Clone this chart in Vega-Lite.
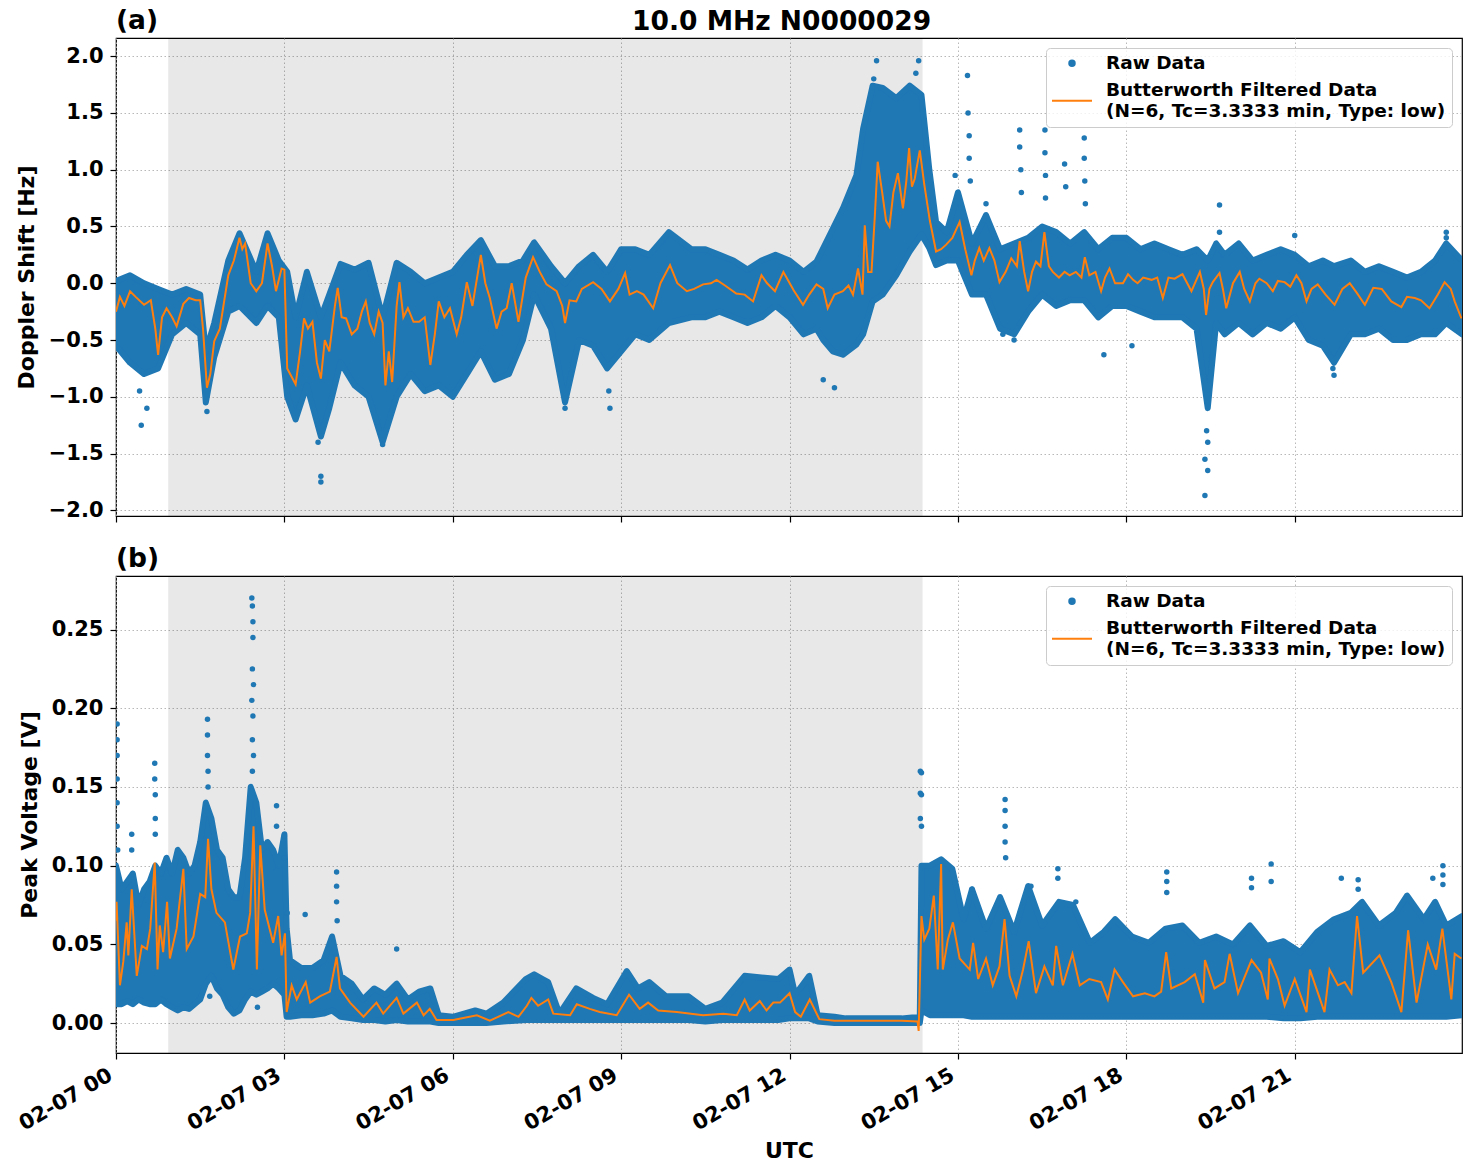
{
  "$schema": "https://vega.github.io/schema/vega-lite/v6.json",
  "background": "white",
  "padding": {"left": 14, "top": 6, "right": 8, "bottom": 5},
  "title": {"text": "10.0 MHz N0000029", "anchor": "middle", "offset": -29, "dx": 43, "fontSize": 26.5},
  "spacing": 20,
  "resolve": {"scale": {"color": "independent"}, "legend": {"color": "independent"}},
  "datasets": {
    "shade": [{"a": 0.93, "b": 14.37}],
    "bandA": [
      {"t":0.0,"lo":-0.55,"hi":0.02},{"t":0.25,"lo":-0.7,"hi":0.07},{"t":0.5,"lo":-0.8,"hi":0.0},{"t":0.75,"lo":-0.75,"hi":-0.05},
      {"t":1.0,"lo":-0.45,"hi":-0.1},{"t":1.25,"lo":-0.35,"hi":-0.05},{"t":1.5,"lo":-0.45,"hi":-0.1},{"t":1.6,"lo":-1.05,"hi":-0.6},
      {"t":1.75,"lo":-0.65,"hi":-0.35},{"t":2.0,"lo":-0.25,"hi":0.2},{"t":2.2,"lo":-0.2,"hi":0.44},{"t":2.5,"lo":-0.35,"hi":0.1},
      {"t":2.7,"lo":-0.2,"hi":0.44},{"t":2.9,"lo":-0.3,"hi":0.2},{"t":3.05,"lo":-1.0,"hi":0.1},{"t":3.2,"lo":-1.2,"hi":-0.3},
      {"t":3.4,"lo":-0.9,"hi":0.1},{"t":3.65,"lo":-1.35,"hi":-0.3},{"t":3.8,"lo":-1.1,"hi":-0.1},{"t":4.0,"lo":-0.7,"hi":0.17},
      {"t":4.25,"lo":-0.9,"hi":0.12},{"t":4.5,"lo":-1.0,"hi":0.18},{"t":4.75,"lo":-1.4,"hi":-0.3},{"t":5.0,"lo":-1.0,"hi":0.18},
      {"t":5.25,"lo":-0.8,"hi":0.1},{"t":5.5,"lo":-0.95,"hi":0.0},{"t":5.75,"lo":-0.9,"hi":0.05},{"t":6.0,"lo":-1.0,"hi":0.1},
      {"t":6.25,"lo":-0.8,"hi":0.25},{"t":6.5,"lo":-0.6,"hi":0.38},{"t":6.75,"lo":-0.85,"hi":0.15},{"t":7.0,"lo":-0.8,"hi":0.15},
      {"t":7.25,"lo":-0.5,"hi":0.2},{"t":7.45,"lo":-0.1,"hi":0.36},{"t":7.75,"lo":-0.4,"hi":0.15},{"t":8.0,"lo":-1.05,"hi":0.0},
      {"t":8.25,"lo":-0.5,"hi":0.15},{"t":8.5,"lo":-0.55,"hi":0.25},{"t":8.75,"lo":-0.75,"hi":0.1},{"t":9.0,"lo":-0.6,"hi":0.3},
      {"t":9.25,"lo":-0.45,"hi":0.3},{"t":9.5,"lo":-0.5,"hi":0.25},{"t":9.85,"lo":-0.35,"hi":0.45},{"t":10.25,"lo":-0.3,"hi":0.3},
      {"t":10.5,"lo":-0.3,"hi":0.3},{"t":10.75,"lo":-0.25,"hi":0.25},{"t":11.0,"lo":-0.3,"hi":0.2},{"t":11.25,"lo":-0.35,"hi":0.12},
      {"t":11.5,"lo":-0.3,"hi":0.2},{"t":11.75,"lo":-0.2,"hi":0.25},{"t":12.0,"lo":-0.3,"hi":0.2},{"t":12.25,"lo":-0.45,"hi":0.1},
      {"t":12.48,"lo":-0.4,"hi":0.19},{"t":12.6,"lo":-0.5,"hi":0.31},{"t":12.77,"lo":-0.6,"hi":0.48},{"t":12.95,"lo":-0.63,"hi":0.66},
      {"t":13.19,"lo":-0.54,"hi":0.95},{"t":13.31,"lo":-0.45,"hi":1.36},{"t":13.48,"lo":-0.16,"hi":1.74},{"t":13.66,"lo":-0.1,"hi":1.72},
      {"t":13.9,"lo":0.07,"hi":1.63},{"t":14.14,"lo":0.28,"hi":1.74},{"t":14.35,"lo":0.43,"hi":1.66},{"t":14.49,"lo":0.31,"hi":1.0},
      {"t":14.61,"lo":0.16,"hi":0.54},{"t":14.8,"lo":0.2,"hi":0.45},{"t":15.0,"lo":0.2,"hi":0.8},
      {"t":15.25,"lo":-0.1,"hi":0.35},{"t":15.5,"lo":-0.1,"hi":0.6},{"t":15.75,"lo":-0.4,"hi":0.3},{"t":16.0,"lo":-0.45,"hi":0.35},
      {"t":16.25,"lo":-0.25,"hi":0.4},{"t":16.5,"lo":-0.1,"hi":0.5},{"t":16.75,"lo":-0.2,"hi":0.45},{"t":17.0,"lo":-0.15,"hi":0.35},
      {"t":17.25,"lo":-0.15,"hi":0.45},{"t":17.5,"lo":-0.3,"hi":0.3},{"t":17.75,"lo":-0.2,"hi":0.4},{"t":18.0,"lo":-0.2,"hi":0.4},
      {"t":18.25,"lo":-0.25,"hi":0.3},{"t":18.5,"lo":-0.3,"hi":0.35},{"t":18.75,"lo":-0.3,"hi":0.3},{"t":19.0,"lo":-0.3,"hi":0.25},
      {"t":19.25,"lo":-0.4,"hi":0.3},{"t":19.45,"lo":-1.1,"hi":0.2},{"t":19.6,"lo":-0.35,"hi":0.35},{"t":19.75,"lo":-0.45,"hi":0.25},
      {"t":20.0,"lo":-0.35,"hi":0.35},{"t":20.25,"lo":-0.45,"hi":0.2},{"t":20.5,"lo":-0.35,"hi":0.25},{"t":20.75,"lo":-0.4,"hi":0.3},
      {"t":21.0,"lo":-0.3,"hi":0.25},{"t":21.25,"lo":-0.5,"hi":0.15},{"t":21.5,"lo":-0.55,"hi":0.2},{"t":21.7,"lo":-0.7,"hi":0.15},
      {"t":22.0,"lo":-0.45,"hi":0.2},{"t":22.25,"lo":-0.45,"hi":0.1},{"t":22.5,"lo":-0.4,"hi":0.15},{"t":22.75,"lo":-0.5,"hi":0.1},
      {"t":23.0,"lo":-0.5,"hi":0.05},{"t":23.25,"lo":-0.45,"hi":0.1},{"t":23.5,"lo":-0.45,"hi":0.2},{"t":23.7,"lo":-0.35,"hi":0.35},
      {"t":23.98,"lo":-0.45,"hi":0.2}
    ],
    "filtA": [
      {"t":0.0,"f":-0.25},{"t":0.07,"f":-0.12},{"t":0.15,"f":-0.2},{"t":0.25,"f":-0.07},{"t":0.35,"f":-0.12},{"t":0.5,"f":-0.19},
      {"t":0.62,"f":-0.15},{"t":0.7,"f":-0.4},{"t":0.75,"f":-0.63},{"t":0.82,"f":-0.3},{"t":0.9,"f":-0.22},{"t":1.0,"f":-0.3},
      {"t":1.08,"f":-0.38},{"t":1.2,"f":-0.18},{"t":1.3,"f":-0.13},{"t":1.42,"f":-0.15},{"t":1.5,"f":-0.15},{"t":1.55,"f":-0.4},
      {"t":1.62,"f":-0.92},{"t":1.68,"f":-0.8},{"t":1.75,"f":-0.51},{"t":1.85,"f":-0.4},{"t":2.0,"f":0.07},{"t":2.1,"f":0.2},
      {"t":2.2,"f":0.4},{"t":2.25,"f":0.3},{"t":2.3,"f":0.35},{"t":2.4,"f":0.0},{"t":2.5,"f":-0.07},{"t":2.6,"f":0.0},
      {"t":2.7,"f":0.35},{"t":2.78,"f":0.15},{"t":2.85,"f":-0.07},{"t":2.95,"f":0.13},{"t":3.0,"f":0.12},{"t":3.05,"f":-0.75},
      {"t":3.2,"f":-0.89},{"t":3.28,"f":-0.6},{"t":3.35,"f":-0.31},{"t":3.42,"f":-0.4},{"t":3.5,"f":-0.34},{"t":3.58,"f":-0.7},
      {"t":3.65,"f":-0.84},{"t":3.72,"f":-0.5},{"t":3.8,"f":-0.6},{"t":3.9,"f":-0.2},{"t":3.95,"f":-0.04},{"t":4.02,"f":-0.3},
      {"t":4.1,"f":-0.31},{"t":4.2,"f":-0.45},{"t":4.3,"f":-0.4},{"t":4.38,"f":-0.25},{"t":4.45,"f":-0.16},{"t":4.52,"f":-0.35},
      {"t":4.6,"f":-0.45},{"t":4.68,"f":-0.25},{"t":4.75,"f":-0.35},{"t":4.8,"f":-0.9},{"t":4.86,"f":-0.6},{"t":4.92,"f":-0.87},
      {"t":5.0,"f":-0.2},{"t":5.05,"f":0.01},{"t":5.12,"f":-0.3},{"t":5.2,"f":-0.22},{"t":5.3,"f":-0.34},{"t":5.4,"f":-0.34},
      {"t":5.5,"f":-0.3},{"t":5.6,"f":-0.72},{"t":5.68,"f":-0.45},{"t":5.75,"f":-0.16},{"t":5.85,"f":-0.3},{"t":5.95,"f":-0.22},
      {"t":6.07,"f":-0.45},{"t":6.15,"f":-0.3},{"t":6.25,"f":0.01},{"t":6.35,"f":-0.2},{"t":6.5,"f":0.25},{"t":6.58,"f":0.0},
      {"t":6.66,"f":-0.13},{"t":6.78,"f":-0.4},{"t":6.87,"f":-0.25},{"t":6.96,"f":-0.22},{"t":7.05,"f":0.0},{"t":7.17,"f":-0.34},
      {"t":7.3,"f":0.05},{"t":7.43,"f":0.23},{"t":7.55,"f":0.1},{"t":7.67,"f":-0.01},{"t":7.85,"f":-0.07},{"t":7.95,"f":-0.2},
      {"t":8.0,"f":-0.35},{"t":8.08,"f":-0.15},{"t":8.2,"f":-0.16},{"t":8.3,"f":-0.05},{"t":8.5,"f":0.01},{"t":8.65,"f":-0.05},
      {"t":8.8,"f":-0.16},{"t":8.95,"f":-0.05},{"t":9.07,"f":0.09},{"t":9.15,"f":-0.1},{"t":9.28,"f":-0.07},{"t":9.4,"f":-0.1},
      {"t":9.57,"f":-0.22},{"t":9.7,"f":0.0},{"t":9.87,"f":0.16},{"t":10.0,"f":0.0},{"t":10.17,"f":-0.07},{"t":10.3,"f":-0.05},
      {"t":10.46,"f":-0.01},{"t":10.6,"f":0.0},{"t":10.7,"f":0.03},{"t":10.85,"f":-0.02},{"t":11.05,"f":-0.09},{"t":11.2,"f":-0.1},
      {"t":11.35,"f":-0.16},{"t":11.5,"f":0.07},{"t":11.6,"f":0.0},{"t":11.74,"f":-0.07},{"t":11.89,"f":0.1},{"t":12.07,"f":-0.06},
      {"t":12.24,"f":-0.19},{"t":12.35,"f":-0.1},{"t":12.48,"f":-0.01},{"t":12.6,"f":-0.05},{"t":12.68,"f":-0.22},{"t":12.8,"f":-0.1},
      {"t":12.95,"f":-0.07},{"t":13.05,"f":-0.02},{"t":13.13,"f":-0.1},{"t":13.22,"f":0.13},{"t":13.3,"f":-0.1},{"t":13.34,"f":0.51},
      {"t":13.4,"f":0.1},{"t":13.46,"f":0.1},{"t":13.52,"f":0.6},{"t":13.57,"f":1.07},{"t":13.65,"f":0.8},{"t":13.72,"f":0.55},
      {"t":13.78,"f":0.5},{"t":13.85,"f":0.8},{"t":13.93,"f":0.97},{"t":14.02,"f":0.66},{"t":14.08,"f":0.9},{"t":14.13,"f":1.19},
      {"t":14.18,"f":0.85},{"t":14.23,"f":0.92},{"t":14.32,"f":1.17},{"t":14.4,"f":0.87},{"t":14.5,"f":0.55},{"t":14.61,"f":0.28},
      {"t":14.7,"f":0.3},{"t":14.79,"f":0.34},{"t":14.9,"f":0.4},{"t":15.03,"f":0.54},{"t":15.13,"f":0.3},{"t":15.24,"f":0.07},
      {"t":15.3,"f":0.2},{"t":15.38,"f":0.31},{"t":15.46,"f":0.2},{"t":15.56,"f":0.31},{"t":15.65,"f":0.2},{"t":15.74,"f":0.01},
      {"t":15.85,"f":0.1},{"t":15.95,"f":0.22},{"t":16.05,"f":0.15},{"t":16.1,"f":0.37},{"t":16.18,"f":0.1},{"t":16.25,"f":-0.07},
      {"t":16.32,"f":0.1},{"t":16.39,"f":0.19},{"t":16.47,"f":0.15},{"t":16.54,"f":0.45},{"t":16.62,"f":0.15},{"t":16.69,"f":0.1},
      {"t":16.8,"f":0.05},{"t":16.9,"f":0.1},{"t":16.99,"f":0.07},{"t":17.1,"f":0.1},{"t":17.2,"f":0.05},{"t":17.26,"f":0.23},
      {"t":17.34,"f":0.07},{"t":17.45,"f":0.1},{"t":17.55,"f":-0.07},{"t":17.62,"f":0.05},{"t":17.7,"f":0.13},{"t":17.8,"f":0.0},
      {"t":17.94,"f":0.0},{"t":18.03,"f":0.08},{"t":18.12,"f":0.03},{"t":18.2,"f":0.0},{"t":18.3,"f":0.05},{"t":18.45,"f":0.03},
      {"t":18.55,"f":0.05},{"t":18.65,"f":-0.13},{"t":18.75,"f":0.05},{"t":18.86,"f":0.04},{"t":19.0,"f":0.08},{"t":19.16,"f":-0.07},
      {"t":19.31,"f":0.1},{"t":19.38,"f":-0.05},{"t":19.42,"f":-0.28},{"t":19.48,"f":-0.05},{"t":19.54,"f":0.01},{"t":19.66,"f":0.09},
      {"t":19.72,"f":-0.05},{"t":19.78,"f":-0.22},{"t":19.9,"f":0.0},{"t":20.02,"f":0.1},{"t":20.1,"f":-0.05},{"t":20.2,"f":-0.16},
      {"t":20.3,"f":0.0},{"t":20.37,"f":0.04},{"t":20.5,"f":0.0},{"t":20.61,"f":-0.07},{"t":20.7,"f":0.02},{"t":20.82,"f":0.01},
      {"t":20.92,"f":-0.03},{"t":21.03,"f":0.07},{"t":21.12,"f":0.0},{"t":21.21,"f":-0.16},{"t":21.3,"f":-0.05},{"t":21.41,"f":-0.01},
      {"t":21.55,"f":-0.1},{"t":21.71,"f":-0.19},{"t":21.85,"f":-0.05},{"t":21.98,"f":0.0},{"t":22.1,"f":-0.08},{"t":22.25,"f":-0.19},
      {"t":22.4,"f":-0.04},{"t":22.55,"f":-0.05},{"t":22.72,"f":-0.16},{"t":22.9,"f":-0.21},{"t":23.0,"f":-0.12},{"t":23.14,"f":-0.13},
      {"t":23.25,"f":-0.15},{"t":23.4,"f":-0.22},{"t":23.55,"f":-0.1},{"t":23.67,"f":0.01},{"t":23.78,"f":-0.05},{"t":23.85,"f":-0.16},
      {"t":23.97,"f":-0.31}
    ],
    "outA": [
      {"t":0.45,"v":-1.25},{"t":0.55,"v":-1.1},{"t":0.42,"v":-0.95},{"t":1.62,"v":-1.13},{"t":3.65,"v":-1.75},{"t":3.65,"v":-1.7},
      {"t":4.75,"v":-1.42},{"t":3.6,"v":-1.4},{"t":8.0,"v":-1.1},{"t":8.8,"v":-1.1},{"t":8.78,"v":-0.95},{"t":13.55,"v":1.96},
      {"t":14.3,"v":1.96},{"t":13.5,"v":1.8},{"t":14.25,"v":1.85},{"t":15.17,"v":1.83},{"t":15.18,"v":1.5},{"t":15.2,"v":1.3},
      {"t":15.2,"v":1.1},{"t":15.22,"v":0.9},{"t":16.1,"v":1.35},{"t":16.1,"v":1.2},{"t":16.12,"v":1.0},{"t":16.13,"v":0.8},
      {"t":16.55,"v":1.35},{"t":16.55,"v":1.15},{"t":16.56,"v":0.95},{"t":16.56,"v":0.75},{"t":16.9,"v":1.05},{"t":16.92,"v":0.85},
      {"t":17.25,"v":1.28},{"t":17.25,"v":1.1},{"t":17.26,"v":0.9},{"t":17.27,"v":0.7},{"t":12.8,"v":-0.92},{"t":12.6,"v":-0.85},
      {"t":19.4,"v":-1.55},{"t":19.45,"v":-1.65},{"t":19.4,"v":-1.87},{"t":19.45,"v":-1.4},{"t":19.43,"v":-1.3},{"t":19.66,"v":0.69},
      {"t":19.66,"v":0.45},{"t":21.0,"v":0.42},{"t":23.7,"v":0.45},{"t":23.7,"v":0.4},{"t":17.6,"v":-0.63},{"t":18.1,"v":-0.55},
      {"t":21.7,"v":-0.81},{"t":21.68,"v":-0.75},{"t":15.8,"v":-0.45},{"t":16.0,"v":-0.5},{"t":14.95,"v":0.95},{"t":15.5,"v":0.7}
    ],
    "bandB": [
      {"t":0.0,"lo":0.012,"hi":0.1},{"t":0.1,"lo":0.012,"hi":0.085},{"t":0.2,"lo":0.014,"hi":0.09},{"t":0.3,"lo":0.012,"hi":0.095},
      {"t":0.4,"lo":0.015,"hi":0.075},{"t":0.5,"lo":0.013,"hi":0.085},{"t":0.6,"lo":0.012,"hi":0.09},{"t":0.7,"lo":0.012,"hi":0.1},
      {"t":0.8,"lo":0.015,"hi":0.095},{"t":0.9,"lo":0.012,"hi":0.105},{"t":1.0,"lo":0.01,"hi":0.095},{"t":1.1,"lo":0.008,"hi":0.11},
      {"t":1.2,"lo":0.01,"hi":0.105},{"t":1.3,"lo":0.009,"hi":0.095},{"t":1.4,"lo":0.012,"hi":0.1},{"t":1.5,"lo":0.015,"hi":0.115},
      {"t":1.6,"lo":0.025,"hi":0.14},{"t":1.7,"lo":0.03,"hi":0.13},{"t":1.8,"lo":0.022,"hi":0.11},{"t":1.9,"lo":0.018,"hi":0.105},
      {"t":2.0,"lo":0.01,"hi":0.085},{"t":2.1,"lo":0.006,"hi":0.08},{"t":2.2,"lo":0.008,"hi":0.08},{"t":2.3,"lo":0.015,"hi":0.105},
      {"t":2.4,"lo":0.02,"hi":0.15},{"t":2.5,"lo":0.018,"hi":0.14},{"t":2.6,"lo":0.02,"hi":0.11},{"t":2.7,"lo":0.022,"hi":0.115},
      {"t":2.8,"lo":0.025,"hi":0.11},{"t":2.9,"lo":0.022,"hi":0.1},{"t":3.0,"lo":0.018,"hi":0.12},{"t":3.04,"lo":0.004,"hi":0.06},
      {"t":3.1,"lo":0.004,"hi":0.04},{"t":3.3,"lo":0.005,"hi":0.035},{"t":3.5,"lo":0.005,"hi":0.035},{"t":3.7,"lo":0.006,"hi":0.04},
      {"t":3.85,"lo":0.008,"hi":0.055},{"t":4.0,"lo":0.004,"hi":0.03},{"t":4.2,"lo":0.003,"hi":0.025},{"t":4.4,"lo":0.002,"hi":0.015},
      {"t":4.6,"lo":0.002,"hi":0.022},{"t":4.8,"lo":0.001,"hi":0.018},{"t":5.0,"lo":0.002,"hi":0.025},{"t":5.2,"lo":0.001,"hi":0.015},
      {"t":5.4,"lo":0.001,"hi":0.02},{"t":5.6,"lo":0.001,"hi":0.022},{"t":5.75,"lo":0.0,"hi":0.005},{"t":6.0,"lo":0.0,"hi":0.004},
      {"t":6.4,"lo":0.0,"hi":0.008},{"t":6.6,"lo":0.0,"hi":0.006},{"t":6.9,"lo":0.001,"hi":0.013},{"t":7.3,"lo":0.002,"hi":0.028},
      {"t":7.45,"lo":0.002,"hi":0.031},{"t":7.6,"lo":0.002,"hi":0.028},{"t":7.7,"lo":0.002,"hi":0.026},{"t":7.9,"lo":0.002,"hi":0.006},
      {"t":8.2,"lo":0.002,"hi":0.022},{"t":8.5,"lo":0.002,"hi":0.016},{"t":8.75,"lo":0.002,"hi":0.012},{"t":9.1,"lo":0.002,"hi":0.033},
      {"t":9.3,"lo":0.002,"hi":0.022},{"t":9.5,"lo":0.002,"hi":0.026},{"t":9.8,"lo":0.002,"hi":0.017},{"t":10.2,"lo":0.002,"hi":0.017},
      {"t":10.5,"lo":0.001,"hi":0.009},{"t":10.8,"lo":0.002,"hi":0.013},{"t":11.2,"lo":0.002,"hi":0.03},{"t":11.5,"lo":0.002,"hi":0.029},
      {"t":11.8,"lo":0.002,"hi":0.028},{"t":12.0,"lo":0.003,"hi":0.034},{"t":12.1,"lo":0.003,"hi":0.018},{"t":12.35,"lo":0.003,"hi":0.03},
      {"t":12.5,"lo":0.001,"hi":0.005},{"t":12.8,"lo":0.0,"hi":0.004},{"t":13.0,"lo":0.0,"hi":0.003},{"t":14.0,"lo":0.0,"hi":0.003},
      {"t":14.32,"lo":0.0,"hi":0.004},{"t":14.35,"lo":0.008,"hi":0.1},{"t":14.5,"lo":0.005,"hi":0.1},{"t":14.7,"lo":0.005,"hi":0.104},
      {"t":14.9,"lo":0.005,"hi":0.098},{"t":15.1,"lo":0.005,"hi":0.066},{"t":15.25,"lo":0.004,"hi":0.085},{"t":15.5,"lo":0.004,"hi":0.06},
      {"t":15.75,"lo":0.004,"hi":0.08},{"t":16.0,"lo":0.004,"hi":0.058},{"t":16.25,"lo":0.004,"hi":0.087},{"t":16.5,"lo":0.004,"hi":0.062},
      {"t":16.8,"lo":0.004,"hi":0.077},{"t":17.05,"lo":0.004,"hi":0.075},{"t":17.35,"lo":0.004,"hi":0.051},{"t":17.6,"lo":0.004,"hi":0.058},
      {"t":17.8,"lo":0.004,"hi":0.066},{"t":18.1,"lo":0.004,"hi":0.055},{"t":18.4,"lo":0.004,"hi":0.051},{"t":18.7,"lo":0.004,"hi":0.06},
      {"t":19.0,"lo":0.004,"hi":0.062},{"t":19.3,"lo":0.004,"hi":0.051},{"t":19.6,"lo":0.004,"hi":0.055},{"t":19.9,"lo":0.004,"hi":0.05},
      {"t":20.2,"lo":0.004,"hi":0.062},{"t":20.5,"lo":0.004,"hi":0.049},{"t":20.8,"lo":0.003,"hi":0.052},{"t":21.1,"lo":0.003,"hi":0.045},
      {"t":21.4,"lo":0.004,"hi":0.058},{"t":21.7,"lo":0.004,"hi":0.066},{"t":22.0,"lo":0.004,"hi":0.07},{"t":22.2,"lo":0.004,"hi":0.077},
      {"t":22.5,"lo":0.004,"hi":0.062},{"t":22.8,"lo":0.004,"hi":0.07},{"t":23.0,"lo":0.004,"hi":0.081},{"t":23.3,"lo":0.004,"hi":0.066},
      {"t":23.5,"lo":0.004,"hi":0.077},{"t":23.7,"lo":0.004,"hi":0.062},{"t":23.98,"lo":0.005,"hi":0.068}
    ],
    "filtB": [
      {"t":0.0,"f":0.065},{"t":0.01,"f":0.077},{"t":0.07,"f":0.024},{"t":0.13,"f":0.039},{"t":0.19,"f":0.064},{"t":0.22,"f":0.043},
      {"t":0.28,"f":0.085},{"t":0.37,"f":0.03},{"t":0.46,"f":0.049},{"t":0.55,"f":0.047},{"t":0.61,"f":0.06},{"t":0.69,"f":0.102},
      {"t":0.74,"f":0.034},{"t":0.78,"f":0.062},{"t":0.84,"f":0.045},{"t":0.91,"f":0.077},{"t":0.96,"f":0.041},{"t":1.08,"f":0.06},
      {"t":1.2,"f":0.098},{"t":1.26,"f":0.047},{"t":1.38,"f":0.055},{"t":1.5,"f":0.082},{"t":1.59,"f":0.08},{"t":1.64,"f":0.117},
      {"t":1.7,"f":0.085},{"t":1.79,"f":0.07},{"t":1.94,"f":0.064},{"t":2.09,"f":0.034},{"t":2.21,"f":0.055},{"t":2.33,"f":0.057},
      {"t":2.39,"f":0.07},{"t":2.45,"f":0.125},{"t":2.51,"f":0.034},{"t":2.57,"f":0.113},{"t":2.65,"f":0.072},{"t":2.8,"f":0.051},
      {"t":2.89,"f":0.068},{"t":2.95,"f":0.043},{"t":3.01,"f":0.057},{"t":3.04,"f":0.007},{"t":3.13,"f":0.024},{"t":3.22,"f":0.015},
      {"t":3.38,"f":0.026},{"t":3.46,"f":0.013},{"t":3.63,"f":0.017},{"t":3.81,"f":0.02},{"t":3.93,"f":0.042},{"t":3.99,"f":0.022},
      {"t":4.17,"f":0.013},{"t":4.41,"f":0.004},{"t":4.64,"f":0.013},{"t":4.76,"f":0.006},{"t":5.0,"f":0.016},{"t":5.12,"f":0.006},
      {"t":5.36,"f":0.013},{"t":5.48,"f":0.005},{"t":5.59,"f":0.009},{"t":5.71,"f":0.002},{"t":6.01,"f":0.002},{"t":6.43,"f":0.005},
      {"t":6.66,"f":0.0015},{"t":6.99,"f":0.007},{"t":7.17,"f":0.004},{"t":7.32,"f":0.011},{"t":7.4,"f":0.016},{"t":7.52,"f":0.011},
      {"t":7.7,"f":0.015},{"t":7.79,"f":0.006},{"t":8.09,"f":0.005},{"t":8.21,"f":0.012},{"t":8.44,"f":0.009},{"t":8.62,"f":0.007},
      {"t":8.92,"f":0.005},{"t":9.14,"f":0.018},{"t":9.33,"f":0.009},{"t":9.48,"f":0.013},{"t":9.66,"f":0.008},{"t":9.99,"f":0.007},
      {"t":10.46,"f":0.005},{"t":10.82,"f":0.006},{"t":11.06,"f":0.005},{"t":11.2,"f":0.015},{"t":11.29,"f":0.008},{"t":11.47,"f":0.014},
      {"t":11.59,"f":0.008},{"t":11.71,"f":0.013},{"t":11.83,"f":0.013},{"t":12.0,"f":0.019},{"t":12.1,"f":0.007},{"t":12.2,"f":0.004},
      {"t":12.36,"f":0.015},{"t":12.53,"f":0.0025},{"t":12.8,"f":0.0015},{"t":13.0,"f":0.0015},{"t":13.5,"f":0.0015},{"t":14.0,"f":0.0015},
      {"t":14.28,"f":0.001},{"t":14.3,"f":-0.005},{"t":14.35,"f":0.068},{"t":14.4,"f":0.053},{"t":14.49,"f":0.06},{"t":14.57,"f":0.081},
      {"t":14.64,"f":0.034},{"t":14.7,"f":0.101},{"t":14.73,"f":0.034},{"t":14.82,"f":0.053},{"t":14.91,"f":0.064},{"t":15.03,"f":0.041},
      {"t":15.21,"f":0.034},{"t":15.27,"f":0.051},{"t":15.36,"f":0.028},{"t":15.5,"f":0.041},{"t":15.62,"f":0.024},{"t":15.74,"f":0.036},
      {"t":15.83,"f":0.066},{"t":15.92,"f":0.03},{"t":16.04,"f":0.017},{"t":16.16,"f":0.034},{"t":16.26,"f":0.052},{"t":16.39,"f":0.019},
      {"t":16.54,"f":0.036},{"t":16.69,"f":0.024},{"t":16.75,"f":0.049},{"t":16.87,"f":0.024},{"t":17.04,"f":0.044},{"t":17.17,"f":0.024},
      {"t":17.34,"f":0.028},{"t":17.55,"f":0.026},{"t":17.67,"f":0.015},{"t":17.79,"f":0.034},{"t":17.94,"f":0.026},{"t":18.12,"f":0.017},
      {"t":18.33,"f":0.019},{"t":18.5,"f":0.017},{"t":18.62,"f":0.02},{"t":18.71,"f":0.045},{"t":18.8,"f":0.022},{"t":19.04,"f":0.026},
      {"t":19.22,"f":0.031},{"t":19.37,"f":0.013},{"t":19.4,"f":0.04},{"t":19.57,"f":0.022},{"t":19.75,"f":0.026},{"t":19.84,"f":0.044},
      {"t":19.99,"f":0.019},{"t":20.23,"f":0.04},{"t":20.4,"f":0.032},{"t":20.52,"f":0.015},{"t":20.55,"f":0.041},{"t":20.7,"f":0.028},
      {"t":20.82,"f":0.011},{"t":21.0,"f":0.028},{"t":21.21,"f":0.007},{"t":21.27,"f":0.034},{"t":21.53,"f":0.007},{"t":21.62,"f":0.034},
      {"t":21.77,"f":0.024},{"t":21.89,"f":0.026},{"t":22.01,"f":0.019},{"t":22.11,"f":0.068},{"t":22.22,"f":0.032},{"t":22.51,"f":0.043},
      {"t":22.72,"f":0.026},{"t":22.9,"f":0.007},{"t":23.02,"f":0.059},{"t":23.17,"f":0.013},{"t":23.37,"f":0.05},{"t":23.52,"f":0.034},
      {"t":23.63,"f":0.06},{"t":23.79,"f":0.015},{"t":23.85,"f":0.044},{"t":23.97,"f":0.041}
    ],
    "outB": [
      {"t":0.02,"v":0.19},{"t":0.02,"v":0.18},{"t":0.02,"v":0.17},{"t":0.02,"v":0.155},{"t":0.02,"v":0.14},{"t":0.02,"v":0.125},
      {"t":0.03,"v":0.11},{"t":0.28,"v":0.12},{"t":0.28,"v":0.11},{"t":0.69,"v":0.165},{"t":0.69,"v":0.155},{"t":0.7,"v":0.145},
      {"t":0.7,"v":0.13},{"t":0.7,"v":0.12},{"t":1.63,"v":0.193},{"t":1.63,"v":0.183},{"t":1.63,"v":0.17},{"t":1.64,"v":0.16},
      {"t":1.64,"v":0.15},{"t":2.42,"v":0.27},{"t":2.43,"v":0.265},{"t":2.44,"v":0.255},{"t":2.44,"v":0.245},{"t":2.43,"v":0.225},
      {"t":2.45,"v":0.215},{"t":2.42,"v":0.205},{"t":2.44,"v":0.195},{"t":2.43,"v":0.18},{"t":2.45,"v":0.17},{"t":2.43,"v":0.16},
      {"t":2.86,"v":0.138},{"t":2.86,"v":0.125},{"t":3.0,"v":0.119},{"t":3.0,"v":0.105},{"t":3.05,"v":0.07},{"t":3.37,"v":0.069},
      {"t":3.93,"v":0.096},{"t":3.93,"v":0.087},{"t":3.93,"v":0.077},{"t":3.94,"v":0.065},{"t":5.0,"v":0.047},{"t":1.67,"v":0.017},
      {"t":2.52,"v":0.01},{"t":14.33,"v":0.16},{"t":14.35,"v":0.159},{"t":14.33,"v":0.146},{"t":14.35,"v":0.145},{"t":14.33,"v":0.13},
      {"t":14.35,"v":0.125},{"t":15.25,"v":0.085},{"t":15.84,"v":0.142},{"t":15.84,"v":0.135},{"t":15.84,"v":0.125},{"t":15.84,"v":0.115},
      {"t":15.85,"v":0.105},{"t":16.3,"v":0.087},{"t":16.78,"v":0.098},{"t":16.78,"v":0.092},{"t":17.1,"v":0.077},{"t":18.72,"v":0.096},
      {"t":18.72,"v":0.09},{"t":18.72,"v":0.083},{"t":20.23,"v":0.092},{"t":20.23,"v":0.086},{"t":20.58,"v":0.101},{"t":20.58,"v":0.09},
      {"t":21.83,"v":0.092},{"t":22.13,"v":0.091},{"t":22.13,"v":0.085},{"t":23.46,"v":0.092},{"t":23.64,"v":0.1},{"t":23.64,"v":0.094},
      {"t":23.64,"v":0.088}
    ]
  },
  "vconcat": [
    {
      "width": 1346,
      "height": 478,
      "title": {"text": "(a)", "anchor": "start", "frame": "group", "fontSize": 26.5, "offset": 4},
      "layer": [
        {
          "data": {"name": "shade"},
          "mark": {"type": "rect", "fill": "#000000", "fillOpacity": 0.09},
          "encoding": {
            "x": {"field": "a", "type": "quantitative", "scale": {"domain": [0, 23.98], "nice": false, "zero": false},
              "axis": {"values": [0, 3, 6, 9, 12, 15, 18, 21], "labels": false, "title": null, "grid": true}},
            "x2": {"field": "b"}
          }
        },
        {
          "data": {"name": "bandA"},
          "mark": {"type": "area", "color": "#1f77b4", "stroke": "#1f77b4", "strokeWidth": 6, "strokeJoin": "round", "clip": true, "opacity": 1},
          "encoding": {
            "x": {"field": "t", "type": "quantitative"},
            "y": {"field": "lo", "type": "quantitative", "scale": {"domain": [-2.05, 2.16], "nice": false, "zero": false},
              "axis": {"values": [-2, -1.5, -1, -0.5, 0, 0.5, 1, 1.5, 2], "format": ".1f", "title": "Doppler Shift [Hz]", "grid": true, "titlePadding": 10}},
            "y2": {"field": "hi"}
          }
        },
        {
          "data": {"name": "outA"},
          "mark": {"type": "point", "filled": true, "color": "#1f77b4", "size": 30, "opacity": 1, "clip": true},
          "encoding": {
            "x": {"field": "t", "type": "quantitative"},
            "y": {"field": "v", "type": "quantitative"}
          }
        },
        {
          "data": {"name": "filtA"},
          "mark": {"type": "line", "strokeWidth": 2, "clip": true},
          "encoding": {
            "x": {"field": "t", "type": "quantitative"},
            "y": {"field": "f", "type": "quantitative"},
            "color": {"datum": "Butterworth", "type": "nominal",
              "scale": {"domain": ["Raw Data", "Butterworth"], "range": ["#1f77b4", "#ff7f0e"]},
              "legend": {
                "title": null, "orient": "top-right", "offset": 10, "padding": 6,
                "labelFont": "DejaVu Sans", "labelFontWeight": "bold", "labelFontSize": 18.5, "labelColor": "black", "labelLimit": 800,
                "labelExpr": "datum.value == 'Raw Data' ? 'Raw Data' : ['Butterworth Filtered Data', '(N=6, Tc=3.3333 min, Type: low)']",
                "fillColor": "rgba(255,255,255,0.8)", "strokeColor": "#cccccc", "cornerRadius": 4,
                "rowPadding": 8, "labelOffset": 35.5, "symbolSize": 100,
                "encode": {
                  "symbols": {"update": {
                    "shape": {"signal": "datum.value == 'Raw Data' ? 'circle' : 'M-4,0L4,0'"},
                    "size": {"signal": "datum.value == 'Raw Data' ? 30 : 100"},
                    "fill": {"signal": "datum.value == 'Raw Data' ? '#1f77b4' : 'transparent'"},
                    "stroke": {"signal": "datum.value == 'Raw Data' ? 'transparent' : '#ff7f0e'"},
                    "strokeWidth": {"value": 2},
                    "opacity": {"value": 1},
                    "x": {"value": 20},
                    "y": {"signal": "datum.value == 'Raw Data' ? 9.25 : 19.75"}
                  }},
                  "labels": {"update": {"lineHeight": {"value": 21}}}
                }
              }}
          }
        }
      ]
    },
    {
      "width": 1346,
      "height": 477,
      "title": {"text": "(b)", "anchor": "start", "frame": "group", "fontSize": 26.5, "offset": 4},
      "layer": [
        {
          "data": {"name": "shade"},
          "mark": {"type": "rect", "fill": "#000000", "fillOpacity": 0.09},
          "encoding": {
            "x": {"field": "a", "type": "quantitative", "scale": {"domain": [0, 23.98], "nice": false, "zero": false},
              "axis": {"values": [0, 3, 6, 9, 12, 15, 18, 21], "title": "UTC", "grid": true,
                "labelExpr": "'02-07 ' + (datum.value < 10 ? '0' : '') + datum.value",
                "labelAngle": 330, "labelAlign": "right", "labelBaseline": "top", "labelOffset": -11, "labelPadding": 5, "titlePadding": 6}},
            "x2": {"field": "b"}
          }
        },
        {
          "data": {"name": "bandB"},
          "mark": {"type": "area", "color": "#1f77b4", "stroke": "#1f77b4", "strokeWidth": 6, "strokeJoin": "round", "clip": true, "opacity": 1},
          "encoding": {
            "x": {"field": "t", "type": "quantitative"},
            "y": {"field": "lo", "type": "quantitative", "scale": {"domain": [-0.019, 0.284], "nice": false, "zero": false},
              "axis": {"values": [0, 0.05, 0.1, 0.15, 0.2, 0.25], "format": ".2f", "title": "Peak Voltage [V]", "grid": true, "titlePadding": 10}},
            "y2": {"field": "hi"}
          }
        },
        {
          "data": {"name": "outB"},
          "mark": {"type": "point", "filled": true, "color": "#1f77b4", "size": 30, "opacity": 1, "clip": true},
          "encoding": {
            "x": {"field": "t", "type": "quantitative"},
            "y": {"field": "v", "type": "quantitative"}
          }
        },
        {
          "data": {"name": "filtB"},
          "mark": {"type": "line", "strokeWidth": 2, "clip": true},
          "encoding": {
            "x": {"field": "t", "type": "quantitative"},
            "y": {"field": "f", "type": "quantitative"},
            "color": {"datum": "Butterworth", "type": "nominal",
              "scale": {"domain": ["Raw Data", "Butterworth"], "range": ["#1f77b4", "#ff7f0e"]},
              "legend": {
                "title": null, "orient": "top-right", "offset": 10, "padding": 6,
                "labelFont": "DejaVu Sans", "labelFontWeight": "bold", "labelFontSize": 18.5, "labelColor": "black", "labelLimit": 800,
                "labelExpr": "datum.value == 'Raw Data' ? 'Raw Data' : ['Butterworth Filtered Data', '(N=6, Tc=3.3333 min, Type: low)']",
                "fillColor": "rgba(255,255,255,0.8)", "strokeColor": "#cccccc", "cornerRadius": 4,
                "rowPadding": 8, "labelOffset": 35.5, "symbolSize": 100,
                "encode": {
                  "symbols": {"update": {
                    "shape": {"signal": "datum.value == 'Raw Data' ? 'circle' : 'M-4,0L4,0'"},
                    "size": {"signal": "datum.value == 'Raw Data' ? 30 : 100"},
                    "fill": {"signal": "datum.value == 'Raw Data' ? '#1f77b4' : 'transparent'"},
                    "stroke": {"signal": "datum.value == 'Raw Data' ? 'transparent' : '#ff7f0e'"},
                    "strokeWidth": {"value": 2},
                    "opacity": {"value": 1},
                    "x": {"value": 20},
                    "y": {"signal": "datum.value == 'Raw Data' ? 9.25 : 19.75"}
                  }},
                  "labels": {"update": {"lineHeight": {"value": 21}}}
                }
              }}
          }
        }
      ]
    }
  ],
  "config": {
    "font": "DejaVu Sans",
    "view": {"stroke": "black", "strokeWidth": 1.2},
    "axis": {
      "labelFont": "DejaVu Sans", "labelFontWeight": "bold", "labelFontSize": 21, "labelColor": "black",
      "titleFont": "DejaVu Sans", "titleFontWeight": "bold", "titleFontSize": 22, "titleColor": "black",
      "domain": false, "tickColor": "black", "tickSize": 6, "tickWidth": 1.2, "labelPadding": 7,
      "gridColor": "#b0b0b0", "gridDash": [1.5, 2.5], "gridWidth": 0.9, "gridOpacity": 1
    },
    "title": {"font": "DejaVu Sans", "fontWeight": "bold", "fontSize": 26.5, "color": "black"}
  }
}
